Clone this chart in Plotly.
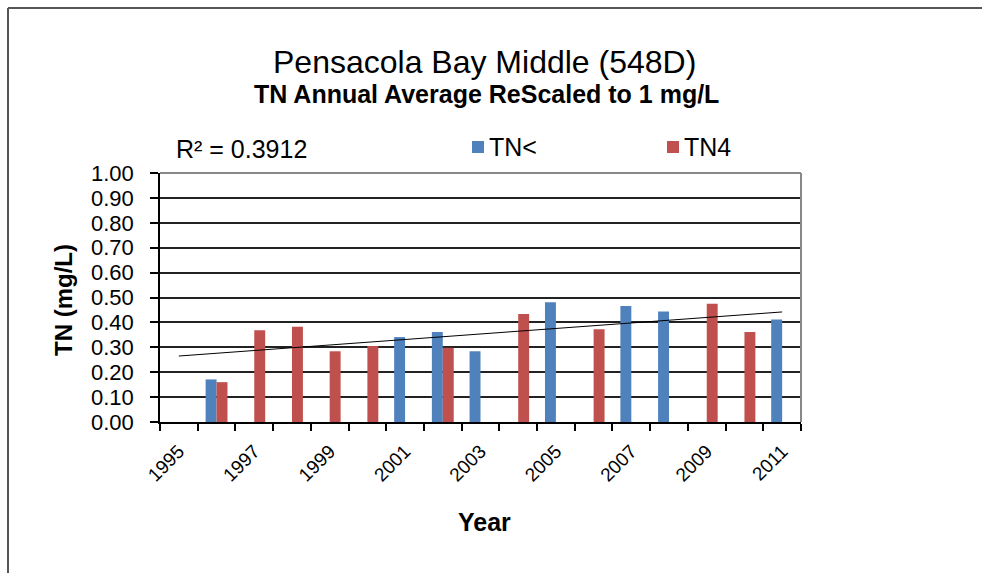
import plotly.graph_objects as go

years = list(range(1995, 2012))
tn_lt = [None, 0.171, None, None, None, None, 0.341, 0.361, 0.284, None, 0.481, None, 0.466, 0.444, None, None, 0.412]
tn_4 = [None, 0.160, 0.368, 0.383, 0.284, 0.305, None, 0.298, None, 0.434, None, 0.372, None, None, 0.475, 0.361, None]
trend_years = [1995, 2011]
trend_values = [0.265, 0.442]
label_years = list(range(1995, 2012, 2))
y_ticks = [round(i * 0.1, 1) for i in range(11)]

FONT = "Arial, Liberation Sans, sans-serif"
W, H = 982, 573
# plot area in page pixels
L, R, T, B = 160, 801, 173, 422

fig = go.Figure()
fig.add_trace(go.Bar(x=years, y=tn_lt, name="TN<", marker=dict(color="#4F81BD", line=dict(width=0))))
fig.add_trace(go.Bar(x=years, y=tn_4, name="TN4", marker=dict(color="#C0504D", line=dict(width=0))))
fig.add_trace(go.Scatter(x=trend_years, y=trend_values, mode="lines", line=dict(color="black", width=1), showlegend=False, hoverinfo="skip"))

fig.update_layout(
    width=W, height=H,
    margin=dict(l=L, r=W - R, t=T, b=H - B, pad=0),
    paper_bgcolor="white", plot_bgcolor="white",
    barmode="group", bargap=0.42, bargroupgap=0,
    font=dict(family=FONT, color="black"),
    showlegend=False,
)
fig.update_xaxes(
    range=[1994.5, 2011.5],
    tickmode="array", tickvals=label_years, ticktext=[str(y) for y in label_years],
    tickangle=-45, tickfont=dict(size=19, family=FONT),
    ticks="outside", ticklen=7, tickcolor="rgba(0,0,0,0)", ticklabelstandoff=2,
    showgrid=False, zeroline=False,
    showline=True, linecolor="black", linewidth=1.5,
    minor=dict(tickmode="array", tickvals=[y + 0.5 for y in range(1994, 2012)], ticks="outside", ticklen=7, tickcolor="black", tickwidth=1.5, showgrid=False),
)
fig.update_yaxes(
    range=[0, 1], tickmode="array", tickvals=y_ticks, ticktext=["%.2f" % v for v in y_ticks],
    tickfont=dict(size=22, family=FONT),
    ticks="outside", ticklen=8, tickcolor="black", tickwidth=1.5, ticklabelstandoff=12,
    showgrid=True, gridcolor="#222222", gridwidth=1.5,
    zeroline=False, showline=True, linecolor="black", linewidth=1.5,
)

def px_x(p):
    return (p - L) / (R - L)

def px_y(p):
    return (B - p) / (B - T)

# plot area border top/right (gray)
fig.add_shape(type="line", xref="paper", yref="paper", x0=0, x1=1, y0=1, y1=1, line=dict(color="#888888", width=2))
fig.add_shape(type="line", xref="paper", yref="paper", x0=1, x1=1, y0=0, y1=1, line=dict(color="#888888", width=2))

# outer chart frame (top and left)
fig.add_shape(type="line", xref="paper", yref="paper", x0=px_x(8), x1=px_x(990), y0=px_y(8), y1=px_y(8), line=dict(color="#555555", width=2))
fig.add_shape(type="line", xref="paper", yref="paper", x0=px_x(8), x1=px_x(8), y0=px_y(8), y1=px_y(590), line=dict(color="#555555", width=2))

# titles
fig.add_annotation(text="Pensacola Bay Middle (548D)", xref="paper", yref="paper", x=px_x(484), y=px_y(62), showarrow=False, font=dict(size=32, family=FONT), xanchor="center", yanchor="middle")
fig.add_annotation(text="<b>TN Annual Average ReScaled to 1 mg/L</b>", xref="paper", yref="paper", x=px_x(486), y=px_y(94), showarrow=False, font=dict(size=25, family=FONT), xanchor="center", yanchor="middle")
fig.add_annotation(text="R² = 0.3912", xref="paper", yref="paper", x=px_x(174), y=px_y(149), showarrow=False, font=dict(size=25, family=FONT), xanchor="left", yanchor="middle")

# axis titles
fig.add_annotation(text="<b>Year</b>", xref="paper", yref="paper", x=px_x(485), y=px_y(522), showarrow=False, font=dict(size=25, family=FONT), xanchor="center", yanchor="middle")
fig.add_annotation(text="<b>TN (mg/L)</b>", xref="paper", yref="paper", x=px_x(63), y=px_y(300), showarrow=False, textangle=-90, font=dict(size=24, family=FONT), xanchor="center", yanchor="middle")

# legend
for name, color, sx in [("TN<", "#4F81BD", 472), ("TN4", "#C0504D", 667)]:
    fig.add_shape(type="rect", xref="paper", yref="paper", x0=px_x(sx), x1=px_x(sx + 12), y0=px_y(153), y1=px_y(141), fillcolor=color, line=dict(width=0))
    fig.add_annotation(text=name, xref="paper", yref="paper", x=px_x(sx + 15), y=px_y(147), showarrow=False, font=dict(size=25, family=FONT), xanchor="left", yanchor="middle")

fig.write_html("out.html", config={"displayModeBar": False},
               post_script="document.body.style.margin='0';document.body.style.overflow='hidden';")
